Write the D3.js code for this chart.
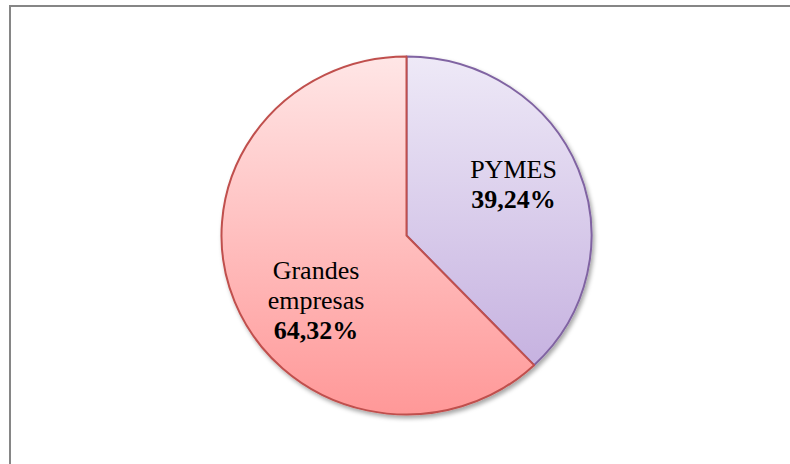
<!DOCTYPE html>
<html>
<head>
<meta charset="utf-8">
<script src="https://cdn.jsdelivr.net/npm/d3@7"></script>
<style>
  body { margin: 0; background: #fff; }
  svg { display: block; }
</style>
</head>
<body>
<svg id="chart"></svg>
<script>
// Data
const categories = ["PYMES", "Grandes empresas"];
const values = [39.24, 64.32];
const valueLabels = ["39,24%", "64,32%"];
const labelLines = [["PYMES"], ["Grandes", "empresas"]];

const width = 790, height = 464;
const cx = 406.5, cy = 235.5;
const rx = 185, ry = 179;

const fills = [
    { top: "#eee9f7", bottom: "#c6b2e0", stroke: "#8064a2" },
    { top: "#ffe6e6", bottom: "#ff9898", stroke: "#c0504d" }
];
const labelPos = [
    { x: 513.5, y: 178 },
    { x: 316, y: 279 }
];

let svg = d3.select("#chart")
    .attr("width", width)
    .attr("height", height);

let defs = svg.append("defs");

// drop shadow
let shadow = defs.append("filter")
    .attr("id", "shadow")
    .attr("x", "-10%").attr("y", "-10%")
    .attr("width", "130%").attr("height", "130%");
shadow.append("feDropShadow")
    .attr("dx", 2).attr("dy", 3)
    .attr("stdDeviation", 2)
    .attr("flood-color", "#000")
    .attr("flood-opacity", 0.35);

fills.forEach((f, i) => {
    let g = defs.append("linearGradient")
        .attr("id", "grad" + i)
        .attr("x1", 0).attr("y1", 0)
        .attr("x2", 0).attr("y2", 1);
    g.append("stop").attr("offset", "0%").attr("stop-color", f.top);
    g.append("stop").attr("offset", "100%").attr("stop-color", f.bottom);
});

// frame
svg.append("line")
    .attr("x1", 9).attr("x2", width)
    .attr("y1", 6).attr("y2", 6)
    .attr("stroke", "#868686").attr("stroke-width", 2);
svg.append("line")
    .attr("x1", 10).attr("x2", 10)
    .attr("y1", 5).attr("y2", height)
    .attr("stroke", "#868686").attr("stroke-width", 2);

// pie
let pie = d3.pie().sort(null).value(d => d);
let arcs = pie(values);

let arc = d3.arc().innerRadius(0).outerRadius(rx);

let pieG = svg.append("g")
    .attr("filter", "url(#shadow)")
    .attr("transform", `translate(${cx},${cy}) scale(1,${ry / rx})`);

pieG.selectAll("path")
    .data(arcs)
    .join("path")
    .attr("d", arc)
    .attr("fill", (d, i) => `url(#grad${i})`)
    .attr("stroke", (d, i) => fills[i].stroke)
    .attr("stroke-width", 2)
    .attr("vector-effect", "non-scaling-stroke")
    .attr("stroke-linejoin", "round");

// labels
let lineH = 30;
categories.forEach((c, i) => {
    let t = svg.append("text")
        .attr("x", labelPos[i].x)
        .attr("y", labelPos[i].y)
        .attr("text-anchor", "middle")
        .style("font-family", '"Liberation Serif", serif')
        .style("font-size", "26px")
        .attr("fill", "#000");
    labelLines[i].forEach((ln, j) => {
        t.append("tspan")
            .attr("x", labelPos[i].x)
            .attr("y", labelPos[i].y + j * lineH)
            .text(ln);
    });
    t.append("tspan")
        .attr("x", labelPos[i].x)
        .attr("y", labelPos[i].y + labelLines[i].length * lineH)
        .style("font-weight", "bold")
        .text(valueLabels[i]);
});
</script>
</body>
</html>
